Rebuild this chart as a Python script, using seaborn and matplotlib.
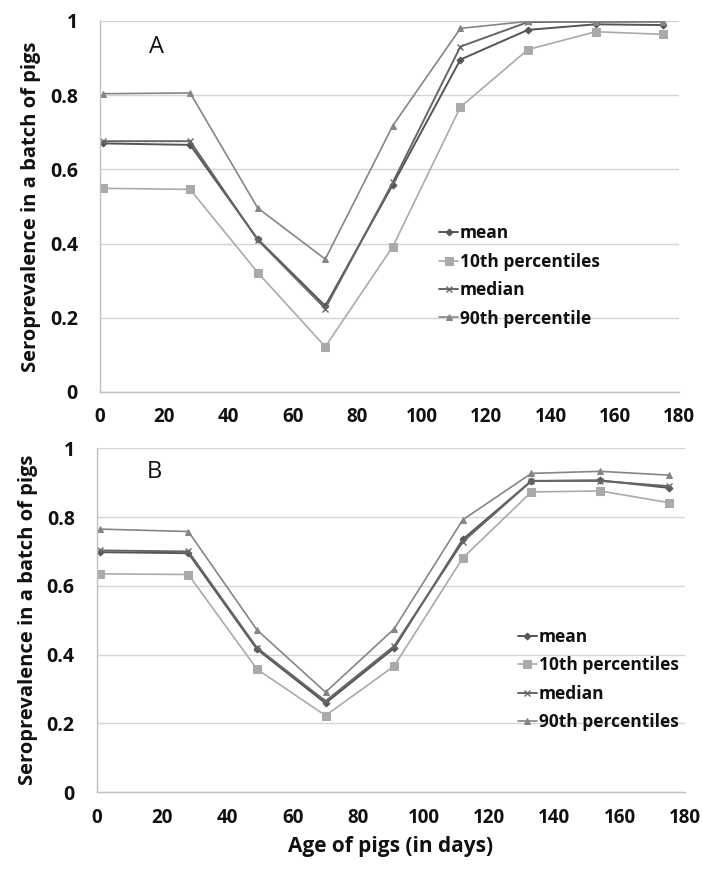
import matplotlib
matplotlib.use("Agg")
import matplotlib.pyplot as plt
import seaborn as sns
import pandas as pd

# Age of pigs (days) at each sampling point
age_days = [1, 28, 49, 70, 91, 112, 133, 154, 175]

# Panel A
a_mean = [0.670, 0.666, 0.412, 0.232, 0.559, 0.896, 0.976, 0.991, 0.989]
a_p10 = [0.549, 0.546, 0.322, 0.122, 0.392, 0.768, 0.923, 0.971, 0.964]
a_median = [0.676, 0.676, 0.410, 0.225, 0.565, 0.931, 0.997, 0.998, 1.000]
a_p90 = [0.804, 0.806, 0.496, 0.358, 0.718, 0.980, 0.999, 0.997, 0.997]

# Panel B
b_mean = [0.698, 0.695, 0.416, 0.259, 0.419, 0.735, 0.905, 0.907, 0.885]
b_p10 = [0.635, 0.633, 0.358, 0.223, 0.367, 0.681, 0.873, 0.876, 0.842]
b_median = [0.703, 0.700, 0.420, 0.265, 0.425, 0.728, 0.905, 0.905, 0.890]
b_p90 = [0.765, 0.758, 0.472, 0.291, 0.475, 0.792, 0.927, 0.933, 0.922]

labels_a = ["mean", "10th percentiles", "median", "90th percentile"]
labels_b = ["mean", "10th percentiles", "median", "90th percentiles"]

y_ticks = [0, 0.2, 0.4, 0.6, 0.8, 1.0]
y_tick_labels = ["0", "0.2", "0.4", "0.6", "0.8", "1"]
x_ticks = list(range(0, 181, 20))

sns.set_theme(style="white")
plt.rcParams["font.family"] = ["Open Sans", "DejaVu Sans"]

styles = [
    dict(color="#555555", marker="D", markersize=3.5, linewidth=1.4),
    dict(color="#aaaaaa", marker="s", markersize=5.5, linewidth=1.2),
    dict(color="#666666", marker="x", markersize=5, markeredgewidth=1.0, linewidth=1.4),
    dict(color="#858585", marker="^", markersize=5, linewidth=1.2),
]

fig = plt.figure(figsize=(7.02, 8.74), dpi=100)
ax_a = fig.add_axes([0.1425, 0.5515, 0.825, 0.4245])
ax_b = fig.add_axes([0.138, 0.0935, 0.8376, 0.3936])


def draw_panel(ax, series, labels, letter, legend_anchor):
    for vals, lab, st in zip(series, labels, styles):
        df = pd.DataFrame({"age": age_days, "value": vals})
        sns.lineplot(data=df, x="age", y="value", ax=ax, label=lab,
                     markeredgecolor=st["color"], **st)
    ax.set_xlim(0, 180)
    ax.set_ylim(0, 1)
    ax.set_xticks(x_ticks)
    ax.set_yticks(y_ticks)
    ax.set_yticklabels(y_tick_labels)
    ax.grid(axis="y", color="#d4d4d4", linewidth=1.0)
    ax.grid(axis="x", visible=False)
    for side in ["top", "right"]:
        ax.spines[side].set_visible(False)
    for side in ["left", "bottom"]:
        ax.spines[side].set_color("#c0c0c0")
        ax.spines[side].set_linewidth(1.0)
    ax.tick_params(axis="x", direction="out", length=5, width=1, color="#c0c0c0",
                   pad=6, labelsize=13.5, labelcolor="#111111")
    ax.tick_params(axis="y", direction="out", length=7, width=1, color="#d4d4d4",
                   pad=9, labelsize=14, labelcolor="#111111")
    for t in ax.get_xticklabels() + ax.get_yticklabels():
        t.set_fontweight("bold")
    ax.set_ylabel("Seroprevalence in a batch of pigs", fontsize=14.5,
                  fontweight="bold", color="#111111", labelpad=6)
    ax.set_xlabel("")
    ax.text(0.085, 0.93, letter, transform=ax.transAxes, fontsize=17,
            color="#111111", va="center", ha="left")
    leg = ax.legend(loc="upper left", bbox_to_anchor=legend_anchor, frameon=False,
                    fontsize=12.5, handlelength=1.1, handletextpad=0.1,
                    labelspacing=0.6, borderpad=0, borderaxespad=0)
    for t in leg.get_texts():
        t.set_fontweight("bold")
        t.set_color("#111111")


draw_panel(ax_a, [a_mean, a_p10, a_median, a_p90], labels_a, "A", (0.5855, 0.452))
draw_panel(ax_b, [b_mean, b_p10, b_median, b_p90], labels_b, "B", (0.716, 0.478))
ax_b.set_xlabel("Age of pigs (in days)", fontsize=15, fontweight="bold",
                color="#111111", labelpad=6)

fig.savefig("out.png", dpi=100)
